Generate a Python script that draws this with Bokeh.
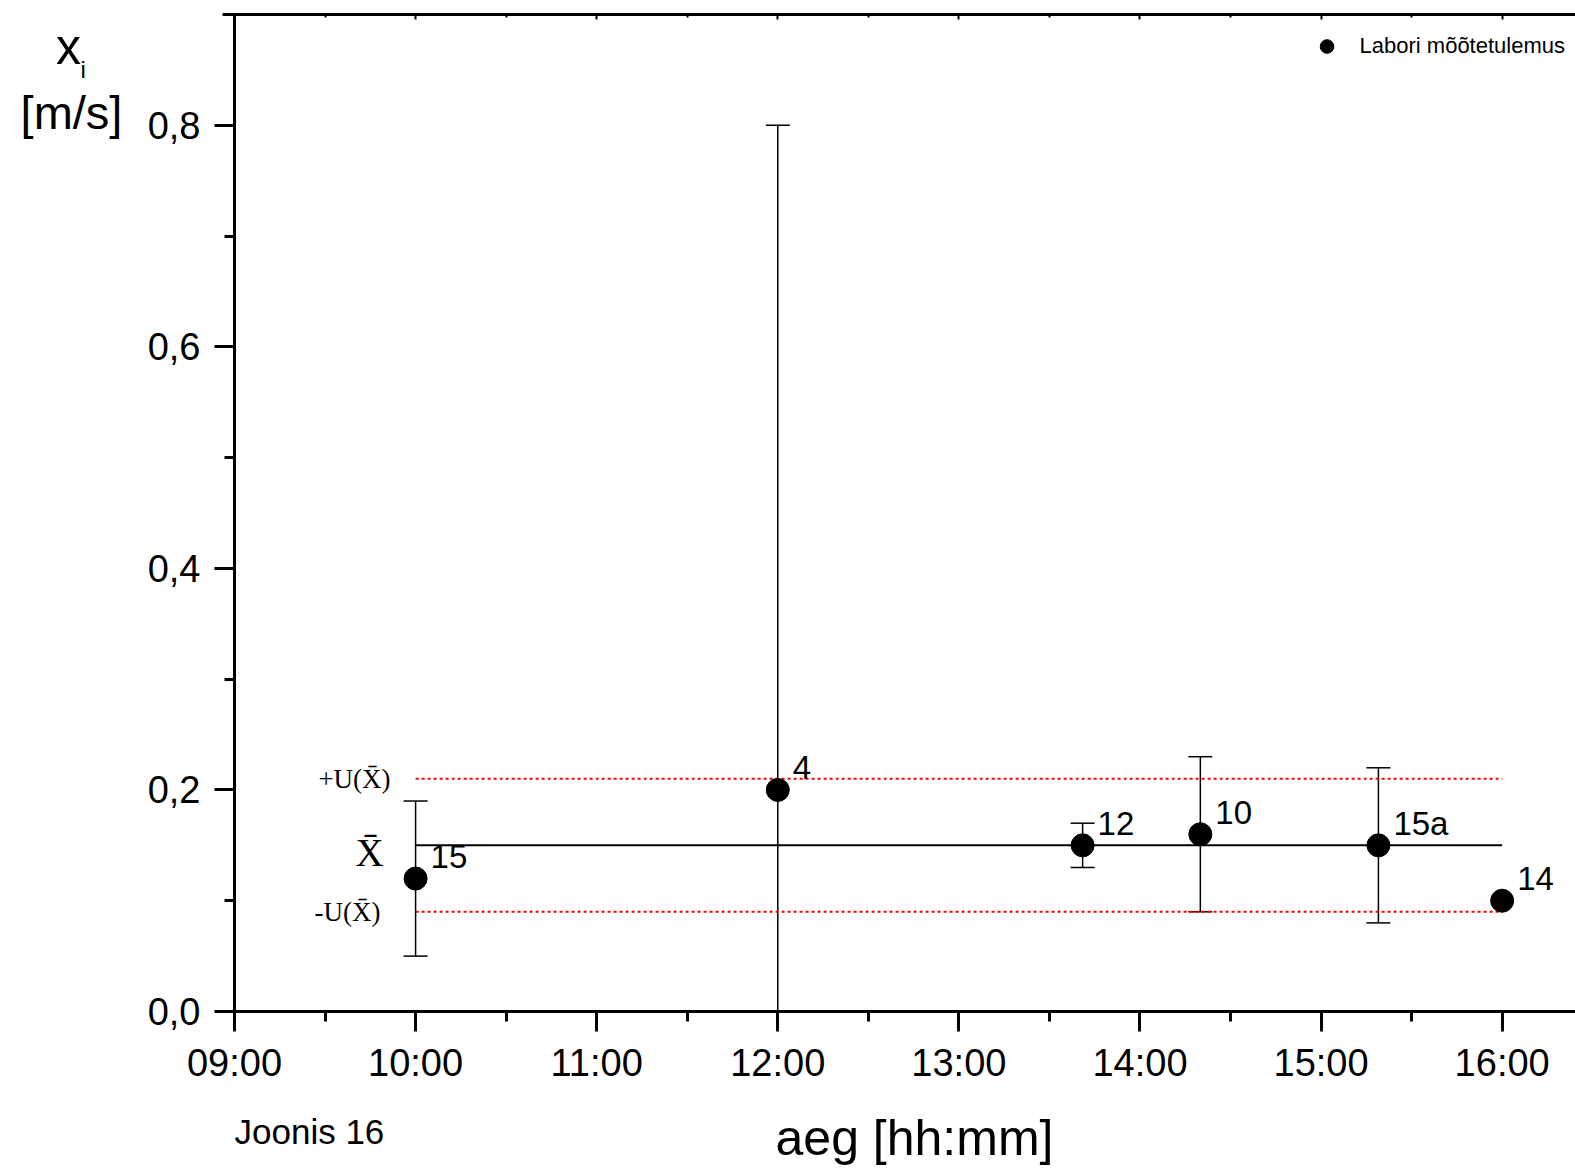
from bokeh.plotting import figure
from bokeh.models import (ColumnDataSource, Whisker, TeeHead, FixedTicker, LinearAxis,
                          Label, Legend, LegendItem, Range1d)
from bokeh.embed import file_html
from bokeh.resources import INLINE
from bokeh.core.properties import value

# ---------------- data ----------------
point_ids = ["15", "4", "12", "10", "15a", "14"]
times = ["10:00", "12:00", "13:41", "14:20", "15:19", "16:00"]
speeds = [0.12, 0.20, 0.15, 0.16, 0.15, 0.10]
err_low = [0.05, 0.00, 0.13, 0.09, 0.08, None]
err_high = [0.19, 0.80, 0.17, 0.23, 0.22, None]

mean_value = 0.15
u_plus = 0.21
u_minus = 0.09
ref_start, ref_end = "10:00", "16:00"

x_tick_labels = ["09:00", "10:00", "11:00", "12:00", "13:00", "14:00", "15:00", "16:00"]
y_tick_values = [0.0, 0.2, 0.4, 0.6, 0.8]
y_tick_labels = ["0,0", "0,2", "0,4", "0,6", "0,8"]
y_minor_values = [0.1, 0.3, 0.5, 0.7]

legend_label = "Labori mõõtetulemus"
x_title = "aeg [hh:mm]"
note_text = "Joonis 16"
lbl_plus = "+U(X\u0304)"
lbl_mean = "X\u0304"
lbl_minus = "-U(X\u0304)"


def to_hours(t):
    h, m = t.split(":")
    return int(h) + int(m) / 60.0


hours = [to_hours(t) for t in times]
x_ticks = [to_hours(t) for t in x_tick_labels]
x_minor = [h + 0.5 for h in x_ticks]

# ---------------- layout ----------------
W, H = 1575, 1169
AX_L, AX_T, AX_B = 234, 14, 1011          # pixel position of the axes box
XA0, XA1 = 9.0, 16.405                    # visible axis extent (hours)
YA0, YA1 = 0.0, 0.9
KX = (W - AX_L) / (XA1 - XA0)             # px per hour
KY = (AX_B - AX_T) / (YA1 - YA0)          # px per m/s
XS = XA0 - AX_L / KX
YS = YA0 - (H - AX_B) / KY
YE = YA1 + AX_T / KY


def px_x(px):
    return XS + px / KX


def px_y(py):
    return YS + (H - py) / KY


p = figure(width=W, height=H, x_range=Range1d(XS, XA1), y_range=Range1d(YS, YE),
           output_backend="svg", toolbar_location=None, min_border=0,
           x_axis_location=None, y_axis_location=None)
p.grid.visible = False
p.outline_line_color = None
p.background_fill_color = "white"
p.border_fill_color = "white"

FONT = "Liberation Sans"


def style_axis(ax):
    ax.axis_line_width = 3
    ax.axis_line_color = "black"
    ax.major_tick_line_width = 3
    ax.minor_tick_line_width = 3
    ax.major_tick_line_color = "black"
    ax.minor_tick_line_color = "black"
    ax.major_tick_out = 20
    ax.major_tick_in = 0
    ax.minor_tick_out = 10
    ax.minor_tick_in = 0
    ax.major_label_text_font = FONT
    ax.major_label_text_font_size = "38px"
    ax.major_label_text_color = "black"


xa = LinearAxis(fixed_location=YA0, bounds=(XA0, XA1),
                ticker=FixedTicker(ticks=x_ticks, minor_ticks=x_minor))
xa.major_label_overrides = {float(v): s for v, s in zip(x_ticks, x_tick_labels)}
style_axis(xa)
xa.major_label_standoff = 10
p.add_layout(xa, "below")

ya = LinearAxis(fixed_location=XA0, bounds=(YA0, YA1),
                ticker=FixedTicker(ticks=y_tick_values, minor_ticks=y_minor_values))
ya.major_label_overrides = {float(v): s for v, s in zip(y_tick_values, y_tick_labels)}
style_axis(ya)
ya.major_label_standoff = 14
p.add_layout(ya, "left")

top = LinearAxis(fixed_location=YA1, bounds=(XA0 - 12 / KX, XA1),
                 ticker=FixedTicker(ticks=x_ticks, minor_ticks=x_minor),
                 major_label_text_font_size="0px", major_label_standoff=0,
                 major_tick_in=5, major_tick_out=0, minor_tick_in=3, minor_tick_out=0,
                 axis_line_width=3, major_tick_line_width=2, minor_tick_line_width=2)
top.major_label_overrides = {float(v): "" for v in x_ticks}
p.add_layout(top, "above")

# reference lines
xs_ref = [to_hours(ref_start), to_hours(ref_end)]
p.line(xs_ref, [mean_value, mean_value], line_color="black", line_width=2)
p.line(xs_ref, [u_plus, u_plus], line_color="red", line_width=2, line_dash="3 3")
p.line(xs_ref, [u_minus, u_minus], line_color="red", line_width=2, line_dash="3 3")

# error bars
wx = [h for h, lo in zip(hours, err_low) if lo is not None]
wlo = [lo for lo in err_low if lo is not None]
whi = [hi for hi in err_high if hi is not None]
wsrc = ColumnDataSource(dict(x=wx, lo=wlo, hi=whi))
p.add_layout(Whisker(source=wsrc, base="x", lower="lo", upper="hi", dimension="height",
                     line_width=1.5, line_color="black",
                     upper_head=TeeHead(size=24, line_width=1.5, line_color="black"),
                     lower_head=TeeHead(size=24, line_width=1.5, line_color="black")))

src = ColumnDataSource(dict(x=hours, y=speeds, label=point_ids))
r = p.scatter("x", "y", source=src, size=23, fill_color="black", line_color="black")
p.text("x", "y", text="label", source=src, x_offset=15, y_offset=-22,
       text_font=value(FONT), text_font_size="33px", text_color="black",
       text_baseline="alphabetic", text_align="left")

# serif labels
SERIF = "Liberation Serif"
hs = to_hours(ref_start)
p.add_layout(Label(x=hs, y=u_plus, x_offset=-25, text=lbl_plus, text_align="right",
                   text_baseline="middle", text_font=SERIF, text_font_size="27px",
                   text_color="black"))
p.add_layout(Label(x=hs, y=mean_value, x_offset=-32, y_offset=-7, text=lbl_mean,
                   text_align="right", text_baseline="middle", text_font=SERIF,
                   text_font_size="39px", text_color="black"))
p.add_layout(Label(x=hs, y=u_minus, x_offset=-35, text=lbl_minus, text_align="right",
                   text_baseline="middle", text_font=SERIF, text_font_size="27px",
                   text_color="black"))


def px_label(px, py, text, size, align="left"):
    return Label(x=px_x(px), y=px_y(py), text=text, text_align=align,
                 text_baseline="alphabetic", text_font=FONT, text_font_size=size,
                 text_color="black")


# y title (horizontal, top-left)
p.add_layout(px_label(68, 46, "x", "50px", "center"))
p.add_layout(px_label(80, 69, "i", "24px", "left"))
p.add_layout(px_label(71, 112, "[m/s]", "47px", "center"))
# x title and note
p.add_layout(px_label(914, 1137, x_title, "50px", "center"))
p.add_layout(px_label(234, 1131, note_text, "35px", "left"))

legend = Legend(items=[LegendItem(label=legend_label, renderers=[r])],
                location="top_right", margin=10, padding=0, glyph_width=34,
                glyph_height=72, label_height=72, label_standoff=16,
                border_line_color=None, background_fill_alpha=0, label_text_font=FONT,
                label_text_font_size="22px", label_text_color="black")
p.add_layout(legend)

open("out.html", "w").write(file_html(p, INLINE))
